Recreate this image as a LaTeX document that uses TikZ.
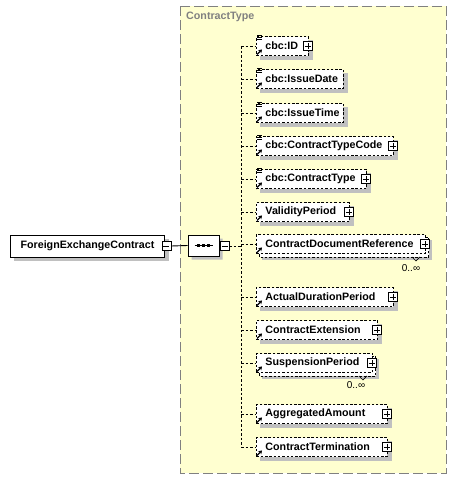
\documentclass[tikz,border=0pt]{standalone}
\usepackage{fontspec}
\setmainfont{Liberation Sans}
\usetikzlibrary{arrows.meta,shapes.misc}
\definecolor{ybg}{RGB}{255,255,208}
\definecolor{ybd}{RGB}{128,128,128}
\definecolor{shd}{RGB}{192,192,192}
\pgfdeclarelayer{shadowlayer}
\pgfsetlayers{shadowlayer,main}
\tikzset{
  elemfont/.style={font=\fontsize{10.7}{12}\selectfont\bfseries},
  elemline/.style={draw=black, line width=0.9pt, dash pattern=on 2.5pt off 1.8pt},
  elem/.style={elemline, elemfont, fill=white, minimum height=19pt, inner xsep=0pt, inner ysep=0pt, anchor=west, align=left},
  rootbox/.style={draw=black, line width=0.9pt, elemfont, fill=white, minimum height=22pt, minimum width=154pt, inner sep=0pt, anchor=west},
  plusbox/.style={draw=black, solid, line width=0.7pt, fill=white, minimum size=9pt, inner sep=0pt,
     path picture={\draw[line width=0.7pt] ([xshift=-3pt]path picture bounding box.center) -- ([xshift=3pt]path picture bounding box.center);
                   \draw[line width=0.7pt] ([yshift=-3pt]path picture bounding box.center) -- ([yshift=3pt]path picture bounding box.center);}},
  minusbox/.style={draw=black, solid, line width=0.7pt, fill=white, minimum size=9pt, inner sep=0pt,
     path picture={\draw[line width=0.7pt] ([xshift=-3pt]path picture bounding box.center) -- ([xshift=3pt]path picture bounding box.center);}},
  seqbox/.style={chamfered rectangle, chamfered rectangle xsep=5pt, chamfered rectangle ysep=5pt, draw=black, line width=0.9pt, fill=white, minimum width=31pt, minimum height=21pt, inner sep=0pt},
  conn/.style={draw=black, line width=0.9pt},
  dconn/.style={draw=black, line width=0.9pt, dash pattern=on 2.5pt off 2pt},
  mult/.style={font=\fontsize{10}{12}\selectfont, text=black, inner sep=0pt},
  refarrow/.style={line width=1.2pt, -{Stealth[length=3.5pt,width=4.5pt]}},
}
\begin{document}
\begin{tikzpicture}[x=1pt,y=-1pt]
\useasboundingbox (0,0) rectangle (457,479);
% yellow complex type box
\begin{pgfonlayer}{shadowlayer}
\draw[fill=ybg, draw=ybd, line width=1pt, dash pattern=on 10pt off 4pt] (180,6) rectangle (446,473);
\end{pgfonlayer}
\node[anchor=west, text=ybd, elemfont, inner sep=0pt] (ctlabel) at (186,17) {ContractType};

% root
\node[rootbox] (root) at (10,246) {ForeignExchangeContract};
\begin{pgfonlayer}{shadowlayer}
\fill[shd] ([shift={(4,4)}]root.north west) rectangle ([shift={(4,4)}]root.south east);
\end{pgfonlayer}
\node[minusbox] (rootm) at ([xshift=1.5pt]root.east) {};

% sequence
\node[seqbox] (seq) at (203.5,245.5) {};
\begin{pgfonlayer}{shadowlayer}
\node[seqbox, draw=none, fill=shd] (seqsh) at (207,249) {};
\end{pgfonlayer}
\draw[line width=0.9pt] ([xshift=-9pt]seq.center) -- ([xshift=9pt]seq.center);
\foreach \dx in {-5,0,5}{\fill ([xshift=\dx pt]seq.center) ++(-1.5,-1.5) rectangle ++(3,3);}
\node[minusbox] (seqm) at (224.5,246) {};
\draw[conn] (rootm.east) -- (seq.west);

\coordinate (spine) at (241,246);
\draw[dconn] (seqm.east) -- (spine);

% children
\foreach \n/\y/\w/\t/\d/\p/\m in {
 id/46/52/cbc:ID/1/1/0,
 idate/79/87/cbc:IssueDate/1/0/0,
 itime/113/87/cbc:IssueTime/1/0/0,
 tcode/146/137/cbc:ContractTypeCode/1/1/0,
 ctype/179/110/cbc:ContractType/1/1/0,
 valid/212/93/ValidityPeriod/0/1/0,
 docref/244/169/ContractDocumentReference/0/1/1,
 actual/297/137/ActualDurationPeriod/0/1/0,
 ext/330/121/ContractExtension/0/1/0,
 susp/363/116/SuspensionPeriod/0/1/1,
 agg/414/131/AggregatedAmount/0/1/0,
 term/447/131/ContractTermination/0/1/0}{
  \node[elem, text width=\w pt] (\n) at (256,\y) {\hspace*{9pt}\t};
  \begin{pgfonlayer}{shadowlayer}
  \ifnum\m=1
    \fill[shd] ([shift={(6,6)}]\n.north west) rectangle ([shift={(6,6)}]\n.south east);
    \draw[elemline, fill=white] ([shift={(3,3)}]\n.north west) rectangle ([shift={(3,3)}]\n.south east);
  \else
    \fill[shd] ([shift={(4,4)}]\n.north west) rectangle ([shift={(4,4)}]\n.south east);
  \fi
  \end{pgfonlayer}
  \ifnum\p=1 \node[plusbox] (\n-p) at ([xshift=-1pt]\n.east) {}; \fi
  \ifnum\d=1
    \foreach \k in {-1,1,3}{\draw[line width=0.8pt] ([shift={(1,\k)}]\n.north west) -- ++(5,0);}
  \fi
  \draw[refarrow] ([shift={(1,-1.5)}]\n.south west) -- ++(5,-5);
  \draw[dconn] (spine |- \n.west) -- (\n.west);
  \ifnum\m=1
    \draw[line width=0.6pt] ([shift={(-14,3)}]\n.south east) -- ++(4,4) -- ++(4,-4);
  \fi
}
\draw[dconn] (spine |- id.west) -- (spine |- term.west);
\node[mult] (m1) at (411,268) {0..∞};
\node[mult] (m2) at (356,385) {0..∞};
\end{tikzpicture}
\end{document}
